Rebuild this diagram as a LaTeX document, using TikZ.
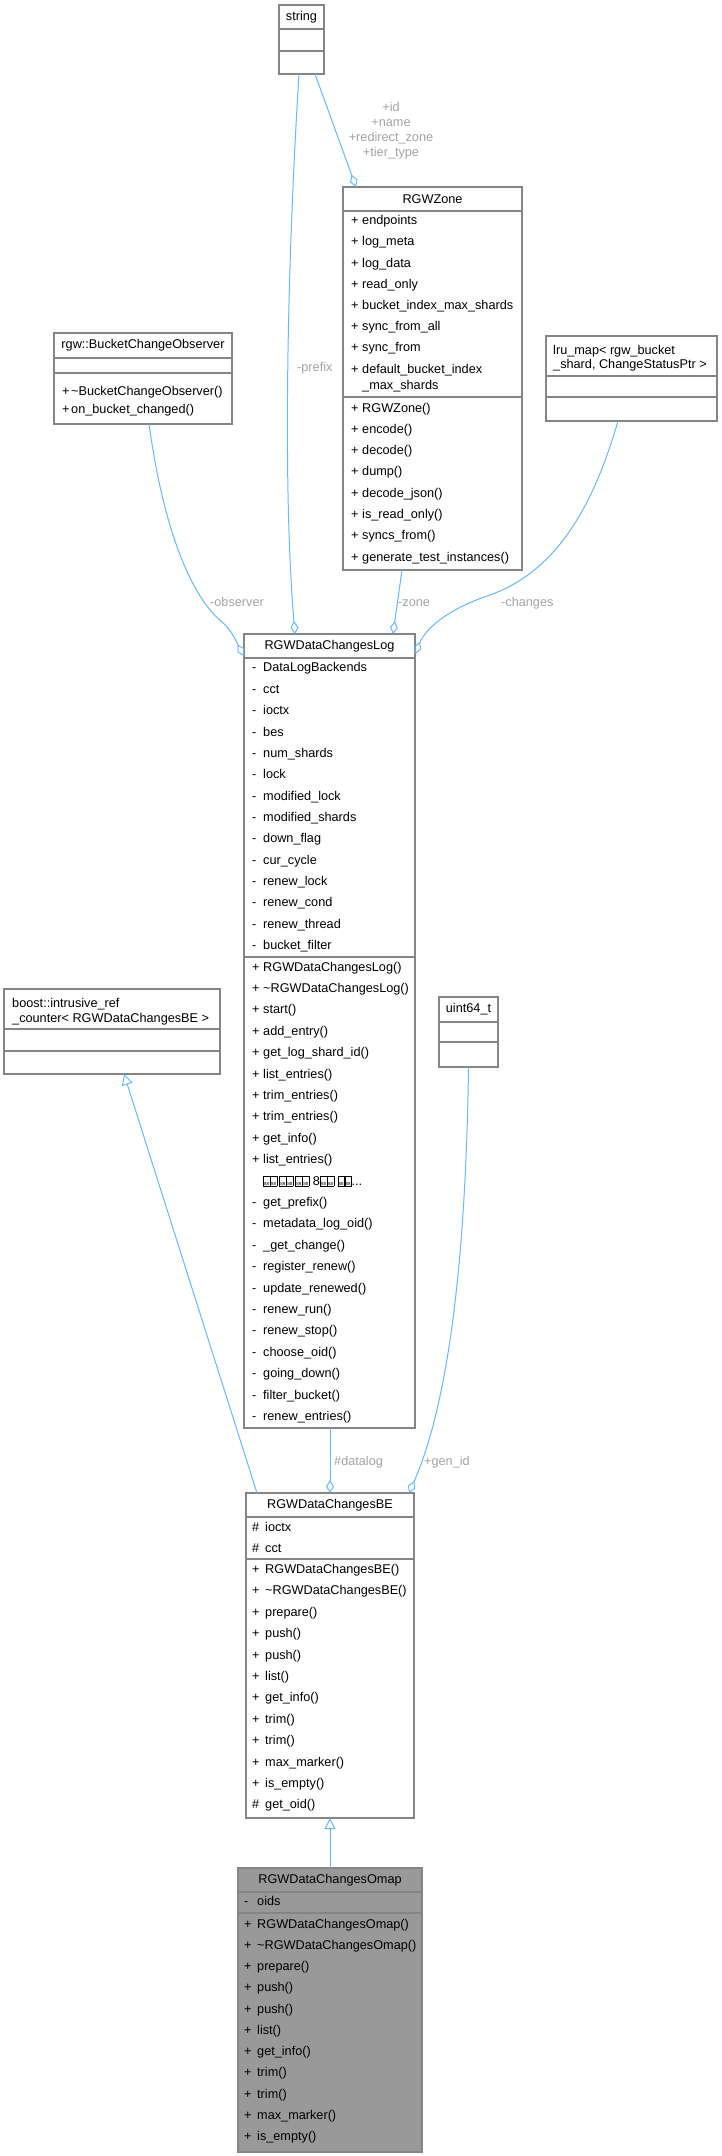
\documentclass[tikz,border=0pt]{standalone}
\usepackage{fontspec}
\setmainfont{Liberation Sans}
\usetikzlibrary{arrows.meta}

\definecolor{edgeblue}{HTML}{63B8FF}
\definecolor{boxgray}{HTML}{858585}
\definecolor{labelgray}{HTML}{A3A3A3}
\definecolor{omapfill}{HTML}{999999}

% glyph that the font could not show
\newcommand{\tofu}{{\setlength{\fboxsep}{0.5pt}\setlength{\fboxrule}{0.5pt}%
  \fbox{\rule{0pt}{8pt}\fontsize{4.5}{4.5}\selectfont 88}}}

\tikzset{
  classbox/.style={draw=boxgray, line width=1.2pt, outer sep=0pt, fill=white},
  classline/.style={draw=boxgray, line width=1.2pt},
  member/.style={anchor=west, text height=9pt, text depth=3pt},
  edgelabel/.style={anchor=west, text=labelgray, text height=9pt, text depth=3pt},
  assoc/.style={draw=edgeblue, line width=1pt, -{Diamond[open, length=13pt, width=8pt]}},
  inherit/.style={draw=edgeblue, line width=1pt, -{Triangle[open, length=11pt, width=11pt]}}
}

\begin{document}
\begin{tikzpicture}[x=1pt, y=-1pt,
  every node/.style={font=\fontsize{12.7}{15}\selectfont, inner sep=0pt}]
\useasboundingbox (0,0) rectangle (722,2156);

% string
\node[classbox, minimum width=45, minimum height=69] (string) at (301.5,39.5) {};
\draw[classline] (279,29) -- (324,29) (279,51) -- (324,51);
\node (string-title) at (301.5,17) {string};

% RGWZone
\node[classbox, minimum width=179, minimum height=383] (zone) at (432.5,378.5) {};
\draw[classline] (343,211) -- (522,211) (343,397) -- (522,397);
\node (zone-title) at (432.5,199) {RGWZone};
\foreach \m [count=\i] in {endpoints, log\_meta, log\_data, read\_only, bucket\_index\_max\_shards, sync\_from\_all, sync\_from, default\_bucket\_index}
  {\node[member] (zone-v\i) at (351,200.5+21.2*\i) {+};
   \node[member] (zone-a\i) at (362,200.5+21.2*\i) {\m};}
\node[member] (zone-a9) at (362,386.7) {\_max\_shards};
\foreach \m [count=\i] in {RGWZone(), encode(), decode(), dump(), decode\_json(), is\_read\_only(), syncs\_from(), generate\_test\_instances()}
  {\node[member] (zone-w\i) at (351,387.7+21.3*\i) {+};
   \node[member] (zone-m\i) at (362,387.7+21.3*\i) {\m};}

% rgw::BucketChangeObserver
\node[classbox, minimum width=178, minimum height=91] (observer) at (143,378.5) {};
\draw[classline] (54,358) -- (232,358) (54,373) -- (232,373);
\node (observer-title) at (143,345.5) {rgw::BucketChangeObserver};
\node[member] (observer-v1) at (62,392) {+};
\node[member] (observer-m1) at (71,392) {\textasciitilde{}BucketChangeObserver()};
\node[member] (observer-v2) at (62,410.7) {+};
\node[member] (observer-m2) at (71,410.7) {on\_bucket\_changed()};

% lru_map
\node[classbox, minimum width=171, minimum height=85] (lru) at (631.5,378.5) {};
\draw[classline] (546,376) -- (717,376) (546,397) -- (717,397);
\node[anchor=west, align=left, font=\fontsize{12.7}{13.5}\selectfont] (lru-title) at (553,358) {lru\_map< rgw\_bucket\\\_shard, ChangeStatusPtr >};

% RGWDataChangesLog
\node[classbox, minimum width=171, minimum height=794] (log) at (329.5,1031) {};
\draw[classline] (244,658) -- (415,658) (244,957) -- (415,957);
\node (log-title) at (329.5,646) {RGWDataChangesLog};
\foreach \m [count=\i] in {DataLogBackends, cct, ioctx, bes, num\_shards, lock, modified\_lock, modified\_shards, down\_flag, cur\_cycle, renew\_lock, renew\_cond, renew\_thread, bucket\_filter}
  {\node[member] (log-v\i) at (252,647.6+21.36*\i) {-};
   \node[member] (log-a\i) at (263,647.6+21.36*\i) {\m};}
\foreach \m [count=\i] in {RGWDataChangesLog(), \textasciitilde{}RGWDataChangesLog(), start(), add\_entry(), get\_log\_shard\_id(), list\_entries(), trim\_entries(), trim\_entries(), get\_info(), list\_entries()}
  {\node[member] (log-w\i) at (252,946.6+21.4*\i) {+};
   \node[member] (log-m\i) at (263,946.6+21.4*\i) {\m};}
\node[member] (log-m11) at (263,1182) {\tofu\tofu\,\tofu\tofu\,\tofu\tofu\ 8\tofu\tofu\ \tofu\tofu...};
\foreach \m [count=\i from 12] in {get\_prefix(), metadata\_log\_oid(), \_get\_change(), register\_renew(), update\_renewed(), renew\_run(), renew\_stop(), choose\_oid(), going\_down(), filter\_bucket(), renew\_entries()}
  {\node[member] (log-w\i) at (252,946.6+21.4*\i) {-};
   \node[member] (log-m\i) at (263,946.6+21.4*\i) {\m};}

% boost::intrusive_ref_counter
\node[classbox, minimum width=216, minimum height=85] (boost) at (112,1031.5) {};
\draw[classline] (4,1029) -- (220,1029) (4,1051) -- (220,1051);
\node[anchor=west, align=left, font=\fontsize{12.7}{15}\selectfont] (boost-title) at (12,1011.5) {boost::intrusive\_ref\\\_counter< RGWDataChangesBE >};

% uint64_t
\node[classbox, minimum width=59, minimum height=70] (uint) at (468.5,1032) {};
\draw[classline] (439,1022) -- (498,1022) (439,1042) -- (498,1042);
\node (uint-title) at (468.5,1009.5) {uint64\_t};

% RGWDataChangesBE
\node[classbox, minimum width=168, minimum height=325] (be) at (330,1655.5) {};
\draw[classline] (246,1517) -- (414,1517) (246,1559) -- (414,1559);
\node (be-title) at (330,1505) {RGWDataChangesBE};
\foreach \m [count=\i] in {ioctx, cct}
  {\node[member] (be-v\i) at (252,1507.6+21*\i) {\#};
   \node[member] (be-a\i) at (265,1507.6+21*\i) {\m};}
\foreach \v/\m [count=\i] in {+/RGWDataChangesBE(), +/\textasciitilde{}RGWDataChangesBE(), +/prepare(), +/push(), +/push(), +/list(), +/get\_info(), +/trim(), +/trim(), +/max\_marker(), +/is\_empty(), \#/get\_oid()}
  {\node[member] (be-w\i) at (252,1549.1+21.4*\i) {\v};
   \node[member] (be-m\i) at (265,1549.1+21.4*\i) {\m};}

% RGWDataChangesOmap
\node[classbox, fill=omapfill, minimum width=184, minimum height=284] (omap) at (330,2010) {};
\draw[classline] (238,1892) -- (422,1892) (238,1913) -- (422,1913);
\node (omap-title) at (330,1880) {RGWDataChangesOmap};
\node[member] (omap-v1) at (244,1902.7) {-};
\node[member] (omap-a1) at (257,1902.7) {oids};
\foreach \m [count=\i] in {RGWDataChangesOmap(), \textasciitilde{}RGWDataChangesOmap(), prepare(), push(), push(), list(), get\_info(), trim(), trim(), max\_marker(), is\_empty()}
  {\node[member] (omap-w\i) at (244,1903.75+21.25*\i) {+};
   \node[member] (omap-m\i) at (257,1903.75+21.25*\i) {\m};}

% connectors
\draw[assoc] ([xshift=-2.5]string.south) .. controls (288,250) and (282,480) .. ([xshift=-34.5]log.north);
\draw[assoc] ([xshift=13.5]string.south) -- ([xshift=-76.5]zone.north);
\draw[assoc] ([xshift=6]observer.south) .. controls (165,540) and (195,600) .. (222,622)
  .. controls (232,630) and (238,645) .. ([yshift=-22]log.north west);
\draw[assoc] ([xshift=-30.5]zone.south) -- ([xshift=63.5]log.north);
\draw[assoc] ([xshift=-13.5]lru.south) .. controls (595,500) and (560,570) .. (490,595)
  .. controls (445,610) and (425,630) .. ([yshift=-20]log.north east);
\draw[assoc] ([xshift=0.5]log.south) -- (be.north);
\draw[assoc] (uint.south) .. controls (466,1250) and (450,1400) .. ([xshift=-5]be.north east);
\draw[inherit] ([xshift=-73]be.north) -- ([xshift=12]boost.south);
\draw[inherit] (omap.north) -- (be.south);

% connector labels
\node[edgelabel] (prefix-lbl) at (297,368) {-prefix};
\node[text=labelgray, align=center] (zone-lbl) at (391,130.5) {+id\\+name\\+redirect\_zone\\+tier\_type};
\node[edgelabel] (observer-lbl) at (210,603) {-observer};
\node[edgelabel] (zonelink-lbl) at (398,603) {-zone};
\node[edgelabel] (changes-lbl) at (501,603) {-changes};
\node[edgelabel] (datalog-lbl) at (334,1462) {\#datalog};
\node[edgelabel] (genid-lbl) at (424,1462) {+gen\_id};
\end{tikzpicture}
\end{document}
